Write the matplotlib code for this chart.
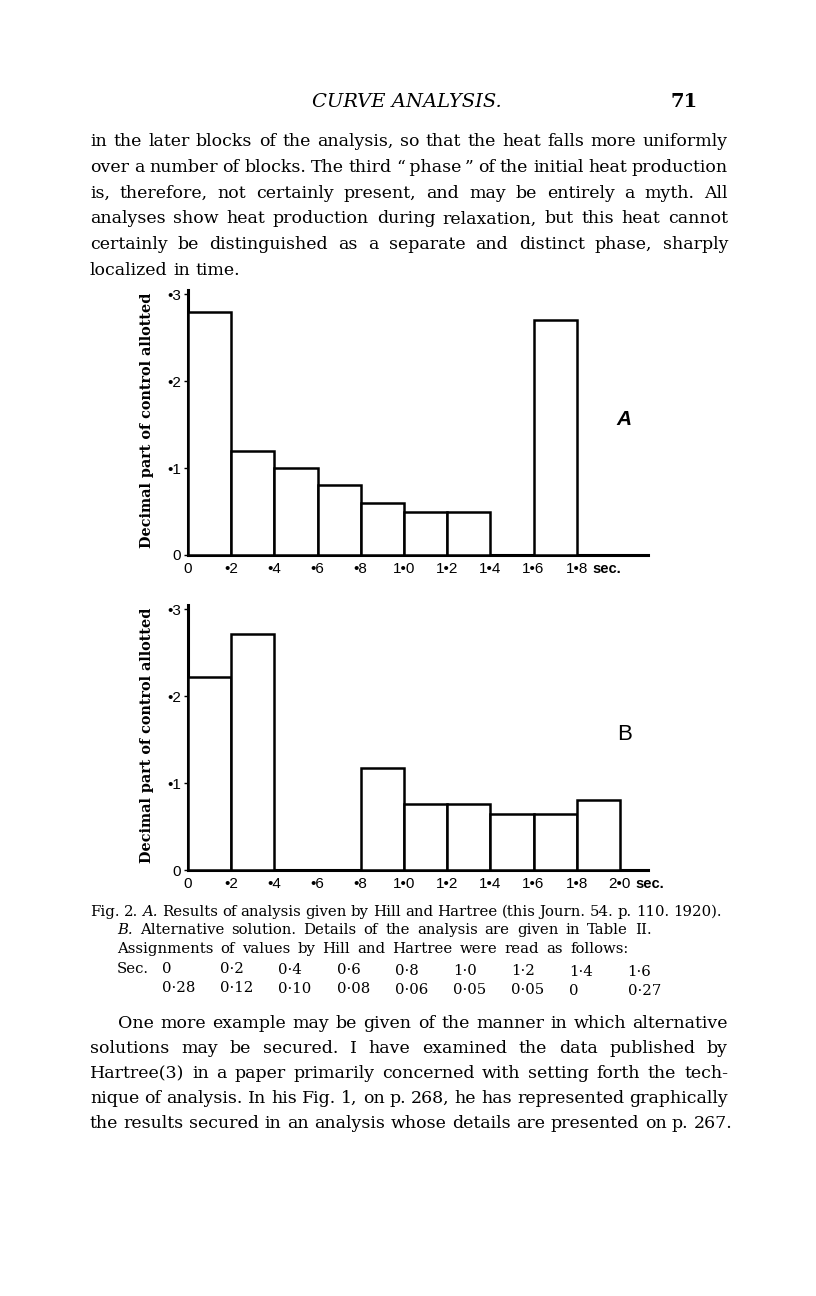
import matplotlib
matplotlib.use("Agg")
import matplotlib.pyplot as plt

W, H = 816, 1296

# Fig. 2A - Hill & Hartree assignments per 0.2 s block
a_starts = [0, 0.2, 0.4, 0.6, 0.8, 1.0, 1.2, 1.4, 1.6]
a_values = [0.28, 0.12, 0.10, 0.08, 0.06, 0.05, 0.05, 0.0, 0.27]
a_ticks = [0, 0.2, 0.4, 0.6, 0.8, 1.0, 1.2, 1.4, 1.6, 1.8]

# Fig. 2B - alternative solution
b_starts = [0, 0.2, 0.4, 0.6, 0.8, 1.0, 1.2, 1.4, 1.6, 1.8]
b_values = [0.222, 0.272, 0.0, 0.0, 0.117, 0.076, 0.076, 0.064, 0.064, 0.080]
b_ticks = [0, 0.2, 0.4, 0.6, 0.8, 1.0, 1.2, 1.4, 1.6, 1.8, 2.0]

y_ticks = [0, 0.1, 0.2, 0.3]
y_labels = ["0", "•1", "•2", "•3"]

sec_labels = ["0", "0·2", "0·4", "0·6", "0·8", "1·0", "1·2", "1·4", "1·6"]

top_lines = [
    "in the later blocks of the analysis, so that the heat falls more uniformly",
    "over a number of blocks. The third \u201c\u2009phase\u2009\u201d of the initial heat production",
    "is, therefore, not certainly present, and may be entirely a myth. All",
    "analyses show heat production during relaxation, but this heat cannot",
    "certainly be distinguished as a separate and distinct phase, sharply",
    "localized in time.",
]
bottom_lines = [
    "One more example may be given of the manner in which alternative",
    "solutions may be secured. I have examined the data published by",
    "Hartree(3) in a paper primarily concerned with setting forth the tech-",
    "nique of analysis. In his Fig. 1, on p. 268, he has represented graphically",
    "the results secured in an analysis whose details are presented on p. 267.",
]


def tick_text(v):
    if v == 0:
        return "0"
    s = f"{v:.1f}".replace(".", "•")
    return s[1:] if s.startswith("0") else s


fig = plt.figure(figsize=(W / 100, H / 100), dpi=100)
renderer = fig.canvas.get_renderer()
serif = "DejaVu Serif"


def put(s, x0, y, x1=None, extra=1.0, **kw):
    kw.setdefault("family", serif)
    words = [w for w in s.split(" ") if w]
    ts = []
    for w in words:
        style = "normal"
        if w.startswith("_") and w.endswith("_"):
            w, style = w.strip("_"), "italic"
        ts.append(fig.text(0, 1 - y / H, w, ha="left", va="baseline", style=style, **kw))
    widths = [t.get_window_extent(renderer).width for t in ts]
    if x1 is None:
        space = fig.text(0, 0, "a a", **kw)
        plain = fig.text(0, 0, "aa", **kw)
        gap = space.get_window_extent(renderer).width - plain.get_window_extent(renderer).width
        gap *= extra
        space.remove()
        plain.remove()
    else:
        gap = (x1 - x0 - sum(widths)) / (len(words) - 1)
    x = x0
    for t, w in zip(ts, widths):
        t.set_x(x / W)
        x += w + gap


# page header
fig.text(407 / W, 1 - 107 / H, "CURVE ANALYSIS.", ha="center", va="baseline",
         family=serif, style="italic", fontsize=14)
fig.text(698 / W, 1 - 107 / H, "71", ha="right", va="baseline",
         family=serif, weight="bold", fontsize=14)

fs_body = 12.5
for i, s in enumerate(top_lines):
    y = 146 + i * 25.8
    put(s, 90, y, None if i == len(top_lines) - 1 else 728, fontsize=fs_body)


def histogram(bottom_px, starts, values, ticks, letter, letter_kw):
    ax = fig.add_axes([188 / W, 1 - bottom_px / H, 460 / W, 265 / H])
    ax.bar(starts, values, width=0.2, align="edge", facecolor="white",
           edgecolor="black", linewidth=1.8, zorder=3, clip_on=False)
    ax.set_xlim(0, 2.13)
    ax.set_ylim(0, 0.305)
    for side in ("top", "right"):
        ax.spines[side].set_visible(False)
    for side in ("left", "bottom"):
        ax.spines[side].set_linewidth(2.2)
    ax.set_xticks(ticks)
    ax.set_xticklabels([tick_text(t) for t in ticks], family="Liberation Sans", fontsize=11)
    ax.set_yticks(y_ticks)
    ax.set_yticklabels(y_labels, family="Liberation Sans", fontsize=11)
    ax.tick_params(axis="x", length=0, pad=5)
    ax.tick_params(axis="y", length=3, width=1, pad=2)
    ax.annotate("sec.", xy=(ticks[-1], 0), xycoords=("data", "axes fraction"),
                xytext=(11, -5), textcoords="offset points", ha="left", va="top",
                family="Liberation Sans", weight="bold", fontsize=10.5)
    ax.text(2.02, 0.156, letter, ha="center", va="center", **letter_kw)
    fig.text(147 / W, 1 - (bottom_px - 135) / H, "Decimal part of control allotted",
             rotation=90, ha="center", va="center", family=serif, weight="bold", fontsize=10.4)
    return ax


histogram(555, a_starts, a_values, a_ticks, "A",
          dict(family="Liberation Sans", weight="bold", style="italic", fontsize=15))
histogram(870, b_starts, b_values, b_ticks, "B",
          dict(family="Liberation Sans", fontsize=16))

# caption
fs_cap = 10.7
put("Fig. 2. _A._ Results of analysis given by Hill and Hartree (this Journ. 54. p. 110. 1920).",
    90, 916, 722, fontsize=fs_cap)
put("_B._ Alternative solution. Details of the analysis are given in Table II.", 117, 934,
    extra=1.5, fontsize=fs_cap)
put("Assignments of values by Hill and Hartree were read as follows:", 117, 953,
    extra=1.5, fontsize=fs_cap)
put("Sec.", 117, 973, fontsize=fs_cap)
for i, (lab, v) in enumerate(zip(sec_labels, a_values)):
    x = 162 + i * 58.2
    put(lab, x, 973 + i * 0.4, fontsize=fs_cap)
    val = "0" if v == 0 else f"{v:.2f}".replace(".", "·")
    put(val, x, 992 + i * 0.4, fontsize=fs_cap)

for i, s in enumerate(bottom_lines):
    y = 1028 + i * 25
    x0 = 118 if i == 0 else 90
    put(s, x0, y, None if i == len(bottom_lines) - 1 else 728, fontsize=fs_body)

fig.savefig("out.png", dpi=100)
